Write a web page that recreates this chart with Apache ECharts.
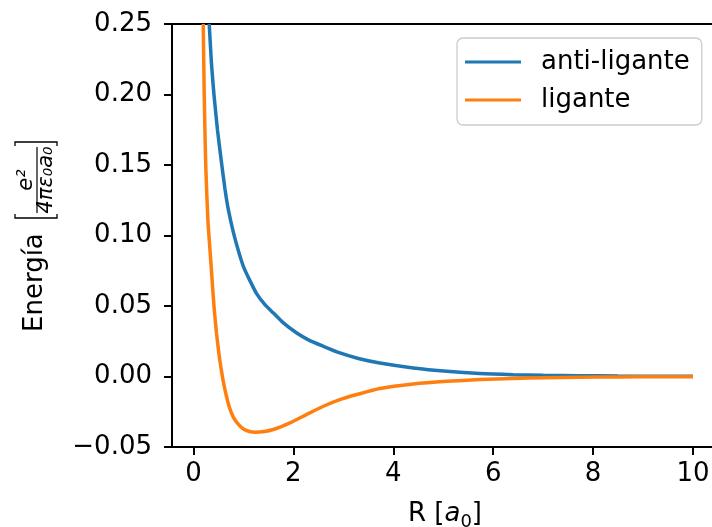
<!DOCTYPE html>
<html>
<head>
<meta charset="utf-8">
<script src="https://cdn.jsdelivr.net/npm/echarts@6/dist/echarts.min.js"></script>
<style>
  html, body { margin: 0; padding: 0; background: #fff; overflow: hidden; }
  #wrap { width: 712px; height: 527px; overflow: hidden; position: relative; }
  #main { position: absolute; left: 0; top: 0; width: 718px; height: 527px; }
</style>
</head>
<body>
<div id="wrap"><div id="main"></div></div>
<script>
// curvas: R en a0, energía en e^2/(4 pi eps0 a0)
var rAnti = [0.315, 0.36, 0.41, 0.48, 0.56, 0.63, 0.70, 0.80, 0.90, 1.0, 1.13, 1.26, 1.43, 1.60, 1.80,
  2.06, 2.30, 2.60, 2.93, 3.30, 3.73, 4.40, 5.07, 5.73, 6.40, 7.0, 7.7, 8.5, 9.3, 10.0];
var eAnti = [0.25, 0.222, 0.20, 0.175, 0.152, 0.133, 0.118, 0.102, 0.089, 0.078, 0.068, 0.059, 0.051, 0.045, 0.038,
  0.031, 0.026, 0.0214, 0.0167, 0.0128, 0.0096, 0.0061, 0.0037, 0.0021, 0.0013, 0.0009, 0.0006, 0.0003, 0.0001, 0.0001];

var rLig = [0.195, 0.215, 0.245, 0.29, 0.33, 0.36, 0.41, 0.46, 0.51, 0.56, 0.61, 0.66, 0.72, 0.80, 0.90,
  1.0, 1.12, 1.24, 1.38, 1.60, 1.93, 2.26, 2.60, 2.93, 3.27, 3.73, 4.40, 5.07, 5.73, 6.40, 7.0, 7.74, 8.5, 9.3, 10.0];
var eLig = [0.25, 0.20, 0.15, 0.11, 0.09, 0.075, 0.05, 0.031, 0.016, 0.004, -0.006, -0.014, -0.022, -0.029, -0.034,
  -0.0372, -0.039, -0.0395, -0.0392, -0.0376, -0.0329, -0.027, -0.0211, -0.0164, -0.0128, -0.0085, -0.0053, -0.0034, -0.0022, -0.0014, -0.0009, -0.0005, -0.0003, -0.0002, -0.0001];

var xTicks = [0, 2, 4, 6, 8, 10];
var names = ['anti-ligante', 'ligante'];

var FONT = 'DejaVu Sans';

function pares(xs, ys) {
  return xs.map(function (x, i) { return [x, ys[i]]; });
}

var chart = echarts.init(document.getElementById('main'));

var option = {
  animation: false,
  backgroundColor: '#fff',
  color: ['#1f77b4', '#ff7f0e'],
  grid: {
    left: 172, top: 24, right: 0, bottom: 80,
    outerBoundsMode: 'none',
    show: true, borderColor: '#000', borderWidth: 2, backgroundColor: 'transparent'
  },
  legend: {
    orient: 'vertical',
    left: 457, top: 38,
    padding: [9, 12, 10, 8],
    itemWidth: 56, itemHeight: 3, icon: 'rect',
    itemGap: 8,
    borderColor: '#cccccc', borderWidth: 1.3, borderRadius: 6,
    backgroundColor: 'rgba(255,255,255,0.8)',
    textStyle: { fontFamily: FONT, fontSize: 26, color: '#000', lineHeight: 30, padding: [0, 0, 0, 15] },
    data: names
  },
  xAxis: {
    type: 'value',
    min: -0.43, max: 10.5,
    name: 'R [{i|a}{s|0}]',
    nameLocation: 'middle', nameGap: 50,
    nameTextStyle: {
      fontFamily: FONT, fontSize: 26, color: '#000', lineHeight: 34,
      rich: {
        i: { fontFamily: FONT, fontSize: 26, fontStyle: 'italic', color: '#000', lineHeight: 34 },
        s: { fontFamily: FONT, fontSize: 18, color: '#000', lineHeight: 22, verticalAlign: 'bottom' }
      }
    },
    axisLine: { onZero: false, lineStyle: { color: '#000', width: 2 } },
    axisTick: { customValues: xTicks, length: 8, lineStyle: { color: '#000', width: 2 } },
    axisLabel: { customValues: xTicks, margin: 14, fontFamily: FONT, fontSize: 26, color: '#000' },
    splitLine: { show: false }
  },
  yAxis: {
    type: 'value',
    min: -0.05, max: 0.25, interval: 0.05,
    axisLine: { show: true, onZero: false, lineStyle: { color: '#000', width: 2 } },
    axisTick: { show: true, length: 8, lineStyle: { color: '#000', width: 2 } },
    axisLabel: {
      margin: 20, fontFamily: FONT, fontSize: 26, color: '#000',
      formatter: function (v) { return v.toFixed(2).replace('-', '−'); }
    },
    splitLine: { show: false }
  },
  graphic: [{
    // etiqueta del eje y con la fracción, girada 90 grados
    type: 'group', x: 36, y: 236, rotation: Math.PI / 2,
    children: [
      { type: 'text', x: -96, y: -1, style: { text: 'Energía', fontFamily: FONT, fontSize: 26, fill: '#000', align: 'left', verticalAlign: 'middle' } },
      { type: 'polyline', shape: { points: [[22, -21], [18, -21], [18, 21], [22, 21]] }, style: { stroke: '#000', lineWidth: 1.3, fill: null } },
      { type: 'polyline', shape: { points: [[90, -21], [94, -21], [94, 21], [90, 21]] }, style: { stroke: '#000', lineWidth: 1.3, fill: null } },
      { type: 'line', shape: { x1: 23, y1: 1, x2: 89, y2: 1 }, style: { stroke: '#000', lineWidth: 1.2 } },
      { type: 'text', x: 56, y: -9, style: { text: 'e²', fontFamily: FONT, fontStyle: 'italic', fontSize: 21, fill: '#000', align: 'center', verticalAlign: 'middle' } },
      { type: 'text', x: 56, y: 11, style: { text: '4πε₀a₀', fontFamily: FONT, fontStyle: 'italic', fontSize: 21, fill: '#000', align: 'center', verticalAlign: 'middle' } }
    ]
  }],
  series: [
    {
      name: names[0], type: 'line', data: pares(rAnti, eAnti),
      showSymbol: false, symbol: 'none', smooth: 0.2,
      lineStyle: { width: 3.5 }
    },
    {
      name: names[1], type: 'line', data: pares(rLig, eLig),
      showSymbol: false, symbol: 'none', smooth: 0.2,
      lineStyle: { width: 3.5 }
    }
  ]
};

chart.setOption(option);
</script>
</body>
</html>
